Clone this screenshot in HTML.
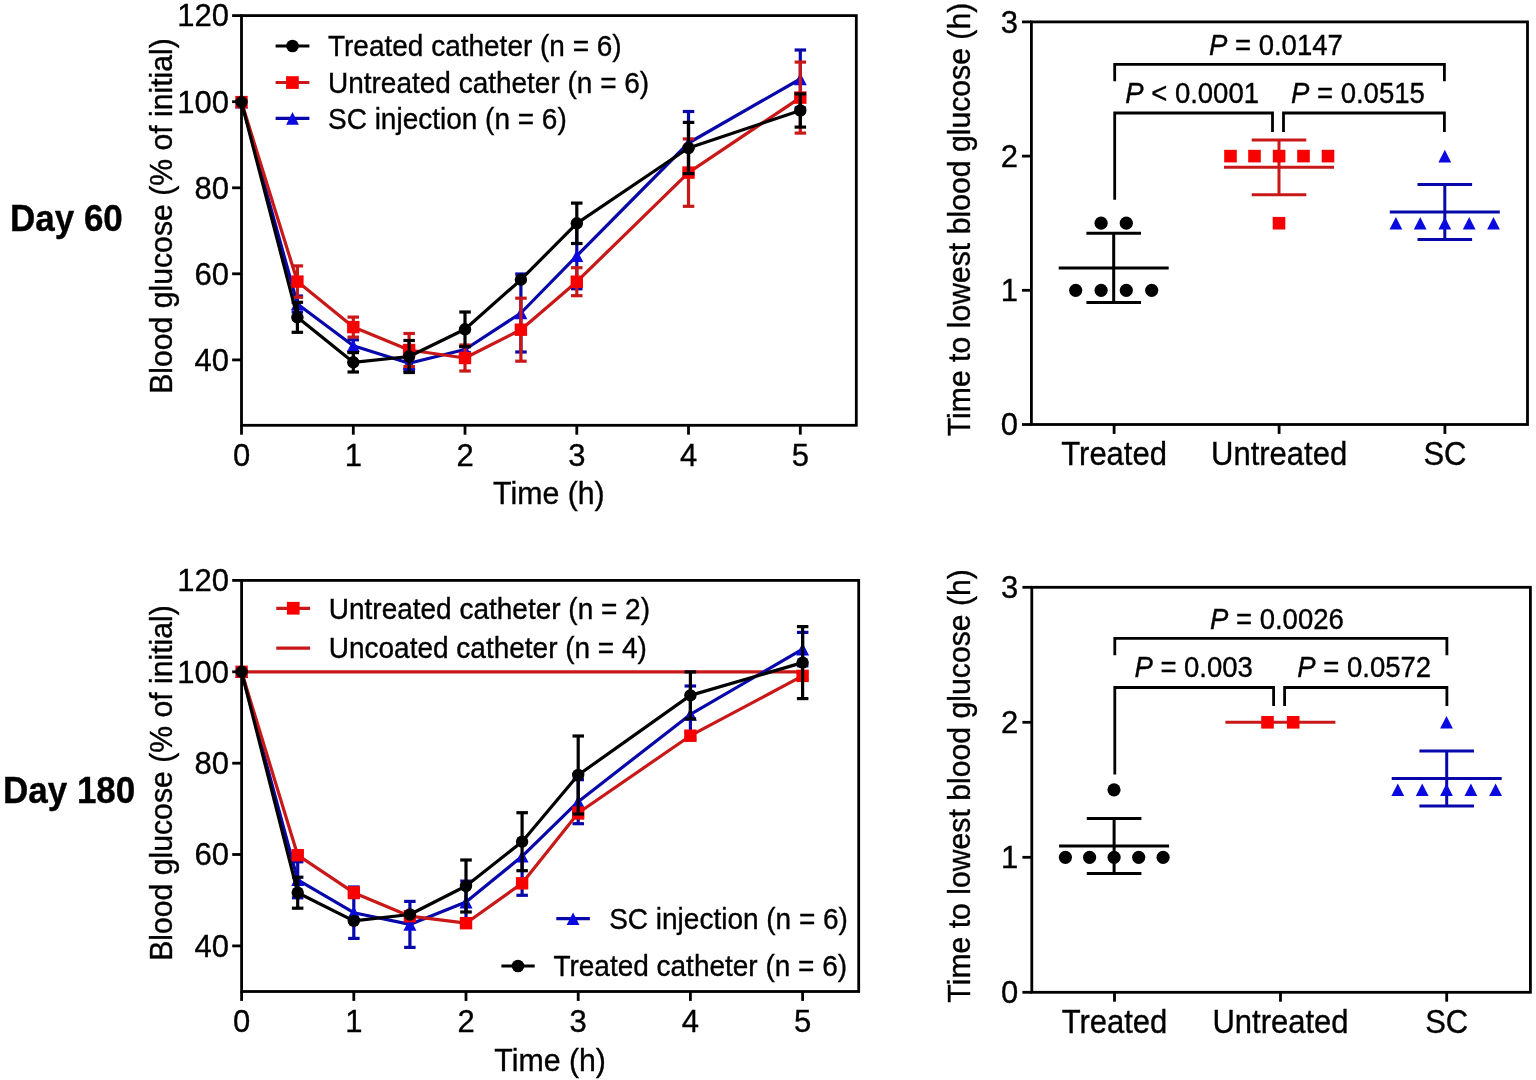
<!DOCTYPE html>
<html><head><meta charset="utf-8"><title>Blood glucose figure</title>
<style>
html,body{margin:0;padding:0;background:#fff;}
body{width:1536px;height:1080px;overflow:hidden;}
svg{display:block;filter:blur(0.3px);}
text{font-family:"Liberation Sans", Arial, Helvetica, sans-serif;fill:#000;stroke:#000;stroke-width:0.35px;}
</style></head>
<body>
<svg width="1536" height="1080" viewBox="0 0 1536 1080">
<rect width="1536" height="1080" fill="#fff"/>
<polyline points="241.5,102.1 297.4,304.0 353.3,345.8 409.1,363.3 465.0,349.5 520.9,313.0 576.8,255.8 688.5,143.0 800.3,79.0" fill="none" stroke="#0808aa" stroke-width="3.2" stroke-linejoin="round"/>
<line x1="297.4" y1="296.0" x2="297.4" y2="312.0" stroke="#0808aa" stroke-width="3.2" stroke-linecap="butt"/>
<line x1="291.6" y1="296.0" x2="303.1" y2="296.0" stroke="#0808aa" stroke-width="3.2" stroke-linecap="butt"/>
<line x1="291.6" y1="312.0" x2="303.1" y2="312.0" stroke="#0808aa" stroke-width="3.2" stroke-linecap="butt"/>
<line x1="353.3" y1="339.8" x2="353.3" y2="351.8" stroke="#0808aa" stroke-width="3.2" stroke-linecap="butt"/>
<line x1="347.5" y1="339.8" x2="359.0" y2="339.8" stroke="#0808aa" stroke-width="3.2" stroke-linecap="butt"/>
<line x1="347.5" y1="351.8" x2="359.0" y2="351.8" stroke="#0808aa" stroke-width="3.2" stroke-linecap="butt"/>
<line x1="409.1" y1="356.3" x2="409.1" y2="370.3" stroke="#0808aa" stroke-width="3.2" stroke-linecap="butt"/>
<line x1="403.4" y1="356.3" x2="414.9" y2="356.3" stroke="#0808aa" stroke-width="3.2" stroke-linecap="butt"/>
<line x1="403.4" y1="370.3" x2="414.9" y2="370.3" stroke="#0808aa" stroke-width="3.2" stroke-linecap="butt"/>
<line x1="465.0" y1="346.5" x2="465.0" y2="352.5" stroke="#0808aa" stroke-width="3.2" stroke-linecap="butt"/>
<line x1="459.3" y1="346.5" x2="470.8" y2="346.5" stroke="#0808aa" stroke-width="3.2" stroke-linecap="butt"/>
<line x1="459.3" y1="352.5" x2="470.8" y2="352.5" stroke="#0808aa" stroke-width="3.2" stroke-linecap="butt"/>
<line x1="520.9" y1="274.0" x2="520.9" y2="352.0" stroke="#0808aa" stroke-width="3.2" stroke-linecap="butt"/>
<line x1="515.2" y1="274.0" x2="526.7" y2="274.0" stroke="#0808aa" stroke-width="3.2" stroke-linecap="butt"/>
<line x1="515.2" y1="352.0" x2="526.7" y2="352.0" stroke="#0808aa" stroke-width="3.2" stroke-linecap="butt"/>
<line x1="576.8" y1="222.8" x2="576.8" y2="288.8" stroke="#0808aa" stroke-width="3.2" stroke-linecap="butt"/>
<line x1="571.0" y1="222.8" x2="582.5" y2="222.8" stroke="#0808aa" stroke-width="3.2" stroke-linecap="butt"/>
<line x1="571.0" y1="288.8" x2="582.5" y2="288.8" stroke="#0808aa" stroke-width="3.2" stroke-linecap="butt"/>
<line x1="688.5" y1="111.5" x2="688.5" y2="174.5" stroke="#0808aa" stroke-width="3.2" stroke-linecap="butt"/>
<line x1="682.8" y1="111.5" x2="694.3" y2="111.5" stroke="#0808aa" stroke-width="3.2" stroke-linecap="butt"/>
<line x1="682.8" y1="174.5" x2="694.3" y2="174.5" stroke="#0808aa" stroke-width="3.2" stroke-linecap="butt"/>
<line x1="800.3" y1="50.0" x2="800.3" y2="108.0" stroke="#0808aa" stroke-width="3.2" stroke-linecap="butt"/>
<line x1="794.6" y1="50.0" x2="806.1" y2="50.0" stroke="#0808aa" stroke-width="3.2" stroke-linecap="butt"/>
<line x1="794.6" y1="108.0" x2="806.1" y2="108.0" stroke="#0808aa" stroke-width="3.2" stroke-linecap="butt"/>
<polygon points="241.5,95.8 248.0,108.4 235.0,108.4" fill="#0a0ae0"/>
<polygon points="297.4,297.7 303.9,310.3 290.9,310.3" fill="#0a0ae0"/>
<polygon points="353.3,339.5 359.8,352.1 346.8,352.1" fill="#0a0ae0"/>
<polygon points="409.1,357.0 415.6,369.6 402.6,369.6" fill="#0a0ae0"/>
<polygon points="465.0,343.2 471.5,355.8 458.5,355.8" fill="#0a0ae0"/>
<polygon points="520.9,306.7 527.4,319.3 514.4,319.3" fill="#0a0ae0"/>
<polygon points="576.8,249.5 583.3,262.1 570.3,262.1" fill="#0a0ae0"/>
<polygon points="688.5,136.7 695.0,149.3 682.0,149.3" fill="#0a0ae0"/>
<polygon points="800.3,72.7 806.8,85.3 793.8,85.3" fill="#0a0ae0"/>
<polyline points="241.5,102.1 297.4,281.6 353.3,327.1 409.1,350.0 465.0,358.0 520.9,329.7 576.8,281.7 688.5,172.6 800.3,97.6" fill="none" stroke="#c81818" stroke-width="3.2" stroke-linejoin="round"/>
<line x1="297.4" y1="265.9" x2="297.4" y2="297.3" stroke="#c81818" stroke-width="3.2" stroke-linecap="butt"/>
<line x1="291.6" y1="265.9" x2="303.1" y2="265.9" stroke="#c81818" stroke-width="3.2" stroke-linecap="butt"/>
<line x1="291.6" y1="297.3" x2="303.1" y2="297.3" stroke="#c81818" stroke-width="3.2" stroke-linecap="butt"/>
<line x1="353.3" y1="317.1" x2="353.3" y2="337.1" stroke="#c81818" stroke-width="3.2" stroke-linecap="butt"/>
<line x1="347.5" y1="317.1" x2="359.0" y2="317.1" stroke="#c81818" stroke-width="3.2" stroke-linecap="butt"/>
<line x1="347.5" y1="337.1" x2="359.0" y2="337.1" stroke="#c81818" stroke-width="3.2" stroke-linecap="butt"/>
<line x1="409.1" y1="333.5" x2="409.1" y2="366.5" stroke="#c81818" stroke-width="3.2" stroke-linecap="butt"/>
<line x1="403.4" y1="333.5" x2="414.9" y2="333.5" stroke="#c81818" stroke-width="3.2" stroke-linecap="butt"/>
<line x1="403.4" y1="366.5" x2="414.9" y2="366.5" stroke="#c81818" stroke-width="3.2" stroke-linecap="butt"/>
<line x1="465.0" y1="345.0" x2="465.0" y2="371.0" stroke="#c81818" stroke-width="3.2" stroke-linecap="butt"/>
<line x1="459.3" y1="345.0" x2="470.8" y2="345.0" stroke="#c81818" stroke-width="3.2" stroke-linecap="butt"/>
<line x1="459.3" y1="371.0" x2="470.8" y2="371.0" stroke="#c81818" stroke-width="3.2" stroke-linecap="butt"/>
<line x1="520.9" y1="298.2" x2="520.9" y2="361.2" stroke="#c81818" stroke-width="3.2" stroke-linecap="butt"/>
<line x1="515.2" y1="298.2" x2="526.7" y2="298.2" stroke="#c81818" stroke-width="3.2" stroke-linecap="butt"/>
<line x1="515.2" y1="361.2" x2="526.7" y2="361.2" stroke="#c81818" stroke-width="3.2" stroke-linecap="butt"/>
<line x1="576.8" y1="267.7" x2="576.8" y2="295.7" stroke="#c81818" stroke-width="3.2" stroke-linecap="butt"/>
<line x1="571.0" y1="267.7" x2="582.5" y2="267.7" stroke="#c81818" stroke-width="3.2" stroke-linecap="butt"/>
<line x1="571.0" y1="295.7" x2="582.5" y2="295.7" stroke="#c81818" stroke-width="3.2" stroke-linecap="butt"/>
<line x1="688.5" y1="138.9" x2="688.5" y2="206.3" stroke="#c81818" stroke-width="3.2" stroke-linecap="butt"/>
<line x1="682.8" y1="138.9" x2="694.3" y2="138.9" stroke="#c81818" stroke-width="3.2" stroke-linecap="butt"/>
<line x1="682.8" y1="206.3" x2="694.3" y2="206.3" stroke="#c81818" stroke-width="3.2" stroke-linecap="butt"/>
<line x1="800.3" y1="62.1" x2="800.3" y2="133.1" stroke="#c81818" stroke-width="3.2" stroke-linecap="butt"/>
<line x1="794.6" y1="62.1" x2="806.1" y2="62.1" stroke="#c81818" stroke-width="3.2" stroke-linecap="butt"/>
<line x1="794.6" y1="133.1" x2="806.1" y2="133.1" stroke="#c81818" stroke-width="3.2" stroke-linecap="butt"/>
<rect x="235.3" y="95.9" width="12.4" height="12.4" fill="#f80000"/>
<rect x="291.2" y="275.4" width="12.4" height="12.4" fill="#f80000"/>
<rect x="347.1" y="320.9" width="12.4" height="12.4" fill="#f80000"/>
<rect x="402.9" y="343.8" width="12.4" height="12.4" fill="#f80000"/>
<rect x="458.8" y="351.8" width="12.4" height="12.4" fill="#f80000"/>
<rect x="514.7" y="323.5" width="12.4" height="12.4" fill="#f80000"/>
<rect x="570.6" y="275.5" width="12.4" height="12.4" fill="#f80000"/>
<rect x="682.3" y="166.4" width="12.4" height="12.4" fill="#f80000"/>
<rect x="794.1" y="91.4" width="12.4" height="12.4" fill="#f80000"/>
<polyline points="241.5,102.1 297.4,317.3 353.3,362.3 409.1,356.5 465.0,329.3 520.9,279.7 576.8,223.3 688.5,148.0 800.3,110.5" fill="none" stroke="#000000" stroke-width="3.2" stroke-linejoin="round"/>
<line x1="297.4" y1="302.3" x2="297.4" y2="332.3" stroke="#000000" stroke-width="3.2" stroke-linecap="butt"/>
<line x1="291.6" y1="302.3" x2="303.1" y2="302.3" stroke="#000000" stroke-width="3.2" stroke-linecap="butt"/>
<line x1="291.6" y1="332.3" x2="303.1" y2="332.3" stroke="#000000" stroke-width="3.2" stroke-linecap="butt"/>
<line x1="353.3" y1="352.6" x2="353.3" y2="372.0" stroke="#000000" stroke-width="3.2" stroke-linecap="butt"/>
<line x1="347.5" y1="352.6" x2="359.0" y2="352.6" stroke="#000000" stroke-width="3.2" stroke-linecap="butt"/>
<line x1="347.5" y1="372.0" x2="359.0" y2="372.0" stroke="#000000" stroke-width="3.2" stroke-linecap="butt"/>
<line x1="409.1" y1="340.5" x2="409.1" y2="372.5" stroke="#000000" stroke-width="3.2" stroke-linecap="butt"/>
<line x1="403.4" y1="340.5" x2="414.9" y2="340.5" stroke="#000000" stroke-width="3.2" stroke-linecap="butt"/>
<line x1="403.4" y1="372.5" x2="414.9" y2="372.5" stroke="#000000" stroke-width="3.2" stroke-linecap="butt"/>
<line x1="465.0" y1="312.0" x2="465.0" y2="346.6" stroke="#000000" stroke-width="3.2" stroke-linecap="butt"/>
<line x1="459.3" y1="312.0" x2="470.8" y2="312.0" stroke="#000000" stroke-width="3.2" stroke-linecap="butt"/>
<line x1="459.3" y1="346.6" x2="470.8" y2="346.6" stroke="#000000" stroke-width="3.2" stroke-linecap="butt"/>
<line x1="576.8" y1="203.1" x2="576.8" y2="243.5" stroke="#000000" stroke-width="3.2" stroke-linecap="butt"/>
<line x1="571.0" y1="203.1" x2="582.5" y2="203.1" stroke="#000000" stroke-width="3.2" stroke-linecap="butt"/>
<line x1="571.0" y1="243.5" x2="582.5" y2="243.5" stroke="#000000" stroke-width="3.2" stroke-linecap="butt"/>
<line x1="688.5" y1="122.4" x2="688.5" y2="173.6" stroke="#000000" stroke-width="3.2" stroke-linecap="butt"/>
<line x1="682.8" y1="122.4" x2="694.3" y2="122.4" stroke="#000000" stroke-width="3.2" stroke-linecap="butt"/>
<line x1="682.8" y1="173.6" x2="694.3" y2="173.6" stroke="#000000" stroke-width="3.2" stroke-linecap="butt"/>
<line x1="800.3" y1="93.9" x2="800.3" y2="127.1" stroke="#000000" stroke-width="3.2" stroke-linecap="butt"/>
<line x1="794.6" y1="93.9" x2="806.1" y2="93.9" stroke="#000000" stroke-width="3.2" stroke-linecap="butt"/>
<line x1="794.6" y1="127.1" x2="806.1" y2="127.1" stroke="#000000" stroke-width="3.2" stroke-linecap="butt"/>
<circle cx="241.5" cy="102.1" r="6.2" fill="#000000"/>
<circle cx="297.4" cy="317.3" r="6.2" fill="#000000"/>
<circle cx="353.3" cy="362.3" r="6.2" fill="#000000"/>
<circle cx="409.1" cy="356.5" r="6.2" fill="#000000"/>
<circle cx="465.0" cy="329.3" r="6.2" fill="#000000"/>
<circle cx="520.9" cy="279.7" r="6.2" fill="#000000"/>
<circle cx="576.8" cy="223.3" r="6.2" fill="#000000"/>
<circle cx="688.5" cy="148.0" r="6.2" fill="#000000"/>
<circle cx="800.3" cy="110.5" r="6.2" fill="#000000"/>
<rect x="241.5" y="15.6" width="614.8" height="409.7" fill="none" stroke="#000" stroke-width="2.8"/>
<line x1="232.1" y1="359.9" x2="241.5" y2="359.9" stroke="#000000" stroke-width="2.8" stroke-linecap="butt"/>
<text x="0" y="0" font-size="31" text-anchor="end" font-weight="normal" font-style="normal" transform="translate(229.0,370.7) scale(1,1.0)" >40</text>
<line x1="232.1" y1="273.8" x2="241.5" y2="273.8" stroke="#000000" stroke-width="2.8" stroke-linecap="butt"/>
<text x="0" y="0" font-size="31" text-anchor="end" font-weight="normal" font-style="normal" transform="translate(229.0,284.6) scale(1,1.0)" >60</text>
<line x1="232.1" y1="187.8" x2="241.5" y2="187.8" stroke="#000000" stroke-width="2.8" stroke-linecap="butt"/>
<text x="0" y="0" font-size="31" text-anchor="end" font-weight="normal" font-style="normal" transform="translate(229.0,198.6) scale(1,1.0)" >80</text>
<line x1="232.1" y1="101.7" x2="241.5" y2="101.7" stroke="#000000" stroke-width="2.8" stroke-linecap="butt"/>
<text x="0" y="0" font-size="31" text-anchor="end" font-weight="normal" font-style="normal" transform="translate(229.0,112.5) scale(1,1.0)" >100</text>
<line x1="232.1" y1="15.6" x2="241.5" y2="15.6" stroke="#000000" stroke-width="2.8" stroke-linecap="butt"/>
<text x="0" y="0" font-size="31" text-anchor="end" font-weight="normal" font-style="normal" transform="translate(229.0,26.4) scale(1,1.0)" >120</text>
<line x1="241.5" y1="425.3" x2="241.5" y2="434.7" stroke="#000000" stroke-width="2.8" stroke-linecap="butt"/>
<text x="0" y="0" font-size="31" text-anchor="middle" font-weight="normal" font-style="normal" transform="translate(241.5,465.9) scale(1,1.0)" >0</text>
<line x1="353.3" y1="425.3" x2="353.3" y2="434.7" stroke="#000000" stroke-width="2.8" stroke-linecap="butt"/>
<text x="0" y="0" font-size="31" text-anchor="middle" font-weight="normal" font-style="normal" transform="translate(353.3,465.9) scale(1,1.0)" >1</text>
<line x1="465.0" y1="425.3" x2="465.0" y2="434.7" stroke="#000000" stroke-width="2.8" stroke-linecap="butt"/>
<text x="0" y="0" font-size="31" text-anchor="middle" font-weight="normal" font-style="normal" transform="translate(465.0,465.9) scale(1,1.0)" >2</text>
<line x1="576.8" y1="425.3" x2="576.8" y2="434.7" stroke="#000000" stroke-width="2.8" stroke-linecap="butt"/>
<text x="0" y="0" font-size="31" text-anchor="middle" font-weight="normal" font-style="normal" transform="translate(576.8,465.9) scale(1,1.0)" >3</text>
<line x1="688.5" y1="425.3" x2="688.5" y2="434.7" stroke="#000000" stroke-width="2.8" stroke-linecap="butt"/>
<text x="0" y="0" font-size="31" text-anchor="middle" font-weight="normal" font-style="normal" transform="translate(688.5,465.9) scale(1,1.0)" >4</text>
<line x1="800.3" y1="425.3" x2="800.3" y2="434.7" stroke="#000000" stroke-width="2.8" stroke-linecap="butt"/>
<text x="0" y="0" font-size="31" text-anchor="middle" font-weight="normal" font-style="normal" transform="translate(800.3,465.9) scale(1,1.0)" >5</text>
<text x="0" y="0" font-size="30.3" text-anchor="middle" font-weight="normal" font-style="normal" transform="translate(548.9,504.3) scale(1,1.05)" >Time (h)</text>
<text x="0" y="0" font-size="30.2" text-anchor="middle" transform="translate(171.5,216.0) rotate(-90) scale(1,1.05)">Blood glucose (% of initial)</text>
<line x1="275.6" y1="46.0" x2="309.4" y2="46.0" stroke="#000000" stroke-width="3.2" stroke-linecap="butt"/>
<circle cx="292.5" cy="46.0" r="6.3" fill="#000000"/>
<text x="0" y="0" font-size="28" text-anchor="start" font-weight="normal" font-style="normal" transform="translate(328.0,56.3) scale(1,1.05)" >Treated catheter (n = 6)</text>
<line x1="275.6" y1="82.5" x2="309.4" y2="82.5" stroke="#c81818" stroke-width="3.2" stroke-linecap="butt"/>
<rect x="286.1" y="76.2" width="12.7" height="12.7" fill="#f80000"/>
<text x="0" y="0" font-size="28" text-anchor="start" font-weight="normal" font-style="normal" transform="translate(328.0,92.8) scale(1,1.05)" >Untreated catheter (n = 6)</text>
<line x1="275.6" y1="118.4" x2="309.4" y2="118.4" stroke="#0808aa" stroke-width="3.2" stroke-linecap="butt"/>
<polygon points="292.5,112.1 298.9,124.8 286.1,124.8" fill="#0a0ae0"/>
<text x="0" y="0" font-size="28" text-anchor="start" font-weight="normal" font-style="normal" transform="translate(328.0,128.7) scale(1,1.05)" >SC injection (n = 6)</text>
<line x1="241.5" y1="671.8" x2="802.9" y2="671.8" stroke="#c81818" stroke-width="3.2" stroke-linecap="butt"/>
<polyline points="241.6,671.8 297.7,879.8 353.8,912.7 409.9,924.4 466.0,902.1 522.1,856.3 578.2,801.7 690.4,714.4 802.6,649.1" fill="none" stroke="#0808aa" stroke-width="3.2" stroke-linejoin="round"/>
<line x1="297.7" y1="861.8" x2="297.7" y2="897.8" stroke="#0808aa" stroke-width="3.2" stroke-linecap="butt"/>
<line x1="291.9" y1="861.8" x2="303.4" y2="861.8" stroke="#0808aa" stroke-width="3.2" stroke-linecap="butt"/>
<line x1="291.9" y1="897.8" x2="303.4" y2="897.8" stroke="#0808aa" stroke-width="3.2" stroke-linecap="butt"/>
<line x1="353.8" y1="887.0" x2="353.8" y2="938.4" stroke="#0808aa" stroke-width="3.2" stroke-linecap="butt"/>
<line x1="348.1" y1="887.0" x2="359.6" y2="887.0" stroke="#0808aa" stroke-width="3.2" stroke-linecap="butt"/>
<line x1="348.1" y1="938.4" x2="359.6" y2="938.4" stroke="#0808aa" stroke-width="3.2" stroke-linecap="butt"/>
<line x1="409.9" y1="901.4" x2="409.9" y2="947.4" stroke="#0808aa" stroke-width="3.2" stroke-linecap="butt"/>
<line x1="404.1" y1="901.4" x2="415.6" y2="901.4" stroke="#0808aa" stroke-width="3.2" stroke-linecap="butt"/>
<line x1="404.1" y1="947.4" x2="415.6" y2="947.4" stroke="#0808aa" stroke-width="3.2" stroke-linecap="butt"/>
<line x1="466.0" y1="881.1" x2="466.0" y2="923.1" stroke="#0808aa" stroke-width="3.2" stroke-linecap="butt"/>
<line x1="460.2" y1="881.1" x2="471.8" y2="881.1" stroke="#0808aa" stroke-width="3.2" stroke-linecap="butt"/>
<line x1="460.2" y1="923.1" x2="471.8" y2="923.1" stroke="#0808aa" stroke-width="3.2" stroke-linecap="butt"/>
<line x1="522.1" y1="856.3" x2="522.1" y2="895.3" stroke="#0808aa" stroke-width="3.2" stroke-linecap="butt"/>
<line x1="516.4" y1="895.3" x2="527.9" y2="895.3" stroke="#0808aa" stroke-width="3.2" stroke-linecap="butt"/>
<line x1="578.2" y1="779.7" x2="578.2" y2="823.7" stroke="#0808aa" stroke-width="3.2" stroke-linecap="butt"/>
<line x1="572.5" y1="779.7" x2="584.0" y2="779.7" stroke="#0808aa" stroke-width="3.2" stroke-linecap="butt"/>
<line x1="572.5" y1="823.7" x2="584.0" y2="823.7" stroke="#0808aa" stroke-width="3.2" stroke-linecap="butt"/>
<line x1="690.4" y1="686.0" x2="690.4" y2="739.9" stroke="#0808aa" stroke-width="3.2" stroke-linecap="butt"/>
<line x1="684.6" y1="686.0" x2="696.1" y2="686.0" stroke="#0808aa" stroke-width="3.2" stroke-linecap="butt"/>
<line x1="684.6" y1="739.9" x2="696.1" y2="739.9" stroke="#0808aa" stroke-width="3.2" stroke-linecap="butt"/>
<line x1="802.6" y1="632.4" x2="802.6" y2="665.8" stroke="#0808aa" stroke-width="3.2" stroke-linecap="butt"/>
<line x1="796.9" y1="632.4" x2="808.4" y2="632.4" stroke="#0808aa" stroke-width="3.2" stroke-linecap="butt"/>
<line x1="796.9" y1="665.8" x2="808.4" y2="665.8" stroke="#0808aa" stroke-width="3.2" stroke-linecap="butt"/>
<polygon points="241.6,665.5 248.1,678.1 235.1,678.1" fill="#0a0ae0"/>
<polygon points="297.7,873.5 304.2,886.1 291.2,886.1" fill="#0a0ae0"/>
<polygon points="353.8,906.4 360.3,919.0 347.3,919.0" fill="#0a0ae0"/>
<polygon points="409.9,918.1 416.4,930.7 403.4,930.7" fill="#0a0ae0"/>
<polygon points="466.0,895.8 472.5,908.4 459.5,908.4" fill="#0a0ae0"/>
<polygon points="522.1,850.0 528.6,862.6 515.6,862.6" fill="#0a0ae0"/>
<polygon points="578.2,795.4 584.7,808.0 571.7,808.0" fill="#0a0ae0"/>
<polygon points="690.4,708.1 696.9,720.7 683.9,720.7" fill="#0a0ae0"/>
<polygon points="802.6,642.8 809.1,655.4 796.1,655.4" fill="#0a0ae0"/>
<polyline points="241.6,671.8 297.7,855.2 353.8,892.7 409.9,916.2 466.0,923.2 522.1,883.3 578.2,813.0 690.4,735.7 802.6,675.9" fill="none" stroke="#c81818" stroke-width="3.2" stroke-linejoin="round"/>
<line x1="297.7" y1="852.2" x2="297.7" y2="858.2" stroke="#c81818" stroke-width="3.2" stroke-linecap="butt"/>
<line x1="291.9" y1="852.2" x2="303.4" y2="852.2" stroke="#c81818" stroke-width="3.2" stroke-linecap="butt"/>
<line x1="291.9" y1="858.2" x2="303.4" y2="858.2" stroke="#c81818" stroke-width="3.2" stroke-linecap="butt"/>
<line x1="353.8" y1="887.7" x2="353.8" y2="897.7" stroke="#c81818" stroke-width="3.2" stroke-linecap="butt"/>
<line x1="348.1" y1="887.7" x2="359.6" y2="887.7" stroke="#c81818" stroke-width="3.2" stroke-linecap="butt"/>
<line x1="348.1" y1="897.7" x2="359.6" y2="897.7" stroke="#c81818" stroke-width="3.2" stroke-linecap="butt"/>
<line x1="409.9" y1="913.2" x2="409.9" y2="919.2" stroke="#c81818" stroke-width="3.2" stroke-linecap="butt"/>
<line x1="404.1" y1="913.2" x2="415.6" y2="913.2" stroke="#c81818" stroke-width="3.2" stroke-linecap="butt"/>
<line x1="404.1" y1="919.2" x2="415.6" y2="919.2" stroke="#c81818" stroke-width="3.2" stroke-linecap="butt"/>
<line x1="466.0" y1="920.2" x2="466.0" y2="926.2" stroke="#c81818" stroke-width="3.2" stroke-linecap="butt"/>
<line x1="460.2" y1="920.2" x2="471.8" y2="920.2" stroke="#c81818" stroke-width="3.2" stroke-linecap="butt"/>
<line x1="460.2" y1="926.2" x2="471.8" y2="926.2" stroke="#c81818" stroke-width="3.2" stroke-linecap="butt"/>
<line x1="522.1" y1="880.3" x2="522.1" y2="886.3" stroke="#c81818" stroke-width="3.2" stroke-linecap="butt"/>
<line x1="516.4" y1="880.3" x2="527.9" y2="880.3" stroke="#c81818" stroke-width="3.2" stroke-linecap="butt"/>
<line x1="516.4" y1="886.3" x2="527.9" y2="886.3" stroke="#c81818" stroke-width="3.2" stroke-linecap="butt"/>
<line x1="578.2" y1="808.0" x2="578.2" y2="818.0" stroke="#c81818" stroke-width="3.2" stroke-linecap="butt"/>
<line x1="572.5" y1="808.0" x2="584.0" y2="808.0" stroke="#c81818" stroke-width="3.2" stroke-linecap="butt"/>
<line x1="572.5" y1="818.0" x2="584.0" y2="818.0" stroke="#c81818" stroke-width="3.2" stroke-linecap="butt"/>
<line x1="690.4" y1="732.7" x2="690.4" y2="738.7" stroke="#c81818" stroke-width="3.2" stroke-linecap="butt"/>
<line x1="684.6" y1="732.7" x2="696.1" y2="732.7" stroke="#c81818" stroke-width="3.2" stroke-linecap="butt"/>
<line x1="684.6" y1="738.7" x2="696.1" y2="738.7" stroke="#c81818" stroke-width="3.2" stroke-linecap="butt"/>
<line x1="802.6" y1="672.9" x2="802.6" y2="678.9" stroke="#c81818" stroke-width="3.2" stroke-linecap="butt"/>
<line x1="796.9" y1="672.9" x2="808.4" y2="672.9" stroke="#c81818" stroke-width="3.2" stroke-linecap="butt"/>
<line x1="796.9" y1="678.9" x2="808.4" y2="678.9" stroke="#c81818" stroke-width="3.2" stroke-linecap="butt"/>
<rect x="235.4" y="665.6" width="12.4" height="12.4" fill="#f80000"/>
<rect x="291.5" y="849.0" width="12.4" height="12.4" fill="#f80000"/>
<rect x="347.6" y="886.5" width="12.4" height="12.4" fill="#f80000"/>
<rect x="403.7" y="910.0" width="12.4" height="12.4" fill="#f80000"/>
<rect x="459.8" y="917.0" width="12.4" height="12.4" fill="#f80000"/>
<rect x="515.9" y="877.1" width="12.4" height="12.4" fill="#f80000"/>
<rect x="572.0" y="806.8" width="12.4" height="12.4" fill="#f80000"/>
<rect x="684.2" y="729.5" width="12.4" height="12.4" fill="#f80000"/>
<rect x="796.4" y="669.7" width="12.4" height="12.4" fill="#f80000"/>
<polyline points="241.6,671.8 297.7,892.7 353.8,920.9 409.9,914.5 466.0,886.0 522.1,841.7 578.2,775.0 690.4,695.4 802.6,662.6" fill="none" stroke="#000000" stroke-width="3.2" stroke-linejoin="round"/>
<line x1="297.7" y1="877.2" x2="297.7" y2="908.2" stroke="#000000" stroke-width="3.2" stroke-linecap="butt"/>
<line x1="291.9" y1="877.2" x2="303.4" y2="877.2" stroke="#000000" stroke-width="3.2" stroke-linecap="butt"/>
<line x1="291.9" y1="908.2" x2="303.4" y2="908.2" stroke="#000000" stroke-width="3.2" stroke-linecap="butt"/>
<line x1="466.0" y1="860.0" x2="466.0" y2="912.0" stroke="#000000" stroke-width="3.2" stroke-linecap="butt"/>
<line x1="460.2" y1="860.0" x2="471.8" y2="860.0" stroke="#000000" stroke-width="3.2" stroke-linecap="butt"/>
<line x1="460.2" y1="912.0" x2="471.8" y2="912.0" stroke="#000000" stroke-width="3.2" stroke-linecap="butt"/>
<line x1="522.1" y1="812.7" x2="522.1" y2="870.7" stroke="#000000" stroke-width="3.2" stroke-linecap="butt"/>
<line x1="516.4" y1="812.7" x2="527.9" y2="812.7" stroke="#000000" stroke-width="3.2" stroke-linecap="butt"/>
<line x1="516.4" y1="870.7" x2="527.9" y2="870.7" stroke="#000000" stroke-width="3.2" stroke-linecap="butt"/>
<line x1="578.2" y1="736.0" x2="578.2" y2="814.0" stroke="#000000" stroke-width="3.2" stroke-linecap="butt"/>
<line x1="572.5" y1="736.0" x2="584.0" y2="736.0" stroke="#000000" stroke-width="3.2" stroke-linecap="butt"/>
<line x1="572.5" y1="814.0" x2="584.0" y2="814.0" stroke="#000000" stroke-width="3.2" stroke-linecap="butt"/>
<line x1="690.4" y1="671.9" x2="690.4" y2="718.9" stroke="#000000" stroke-width="3.2" stroke-linecap="butt"/>
<line x1="684.6" y1="671.9" x2="696.1" y2="671.9" stroke="#000000" stroke-width="3.2" stroke-linecap="butt"/>
<line x1="684.6" y1="718.9" x2="696.1" y2="718.9" stroke="#000000" stroke-width="3.2" stroke-linecap="butt"/>
<line x1="802.6" y1="626.6" x2="802.6" y2="698.6" stroke="#000000" stroke-width="3.2" stroke-linecap="butt"/>
<line x1="796.9" y1="626.6" x2="808.4" y2="626.6" stroke="#000000" stroke-width="3.2" stroke-linecap="butt"/>
<line x1="796.9" y1="698.6" x2="808.4" y2="698.6" stroke="#000000" stroke-width="3.2" stroke-linecap="butt"/>
<circle cx="241.6" cy="671.8" r="6.2" fill="#000000"/>
<circle cx="297.7" cy="892.7" r="6.2" fill="#000000"/>
<circle cx="353.8" cy="920.9" r="6.2" fill="#000000"/>
<circle cx="409.9" cy="914.5" r="6.2" fill="#000000"/>
<circle cx="466.0" cy="886.0" r="6.2" fill="#000000"/>
<circle cx="522.1" cy="841.7" r="6.2" fill="#000000"/>
<circle cx="578.2" cy="775.0" r="6.2" fill="#000000"/>
<circle cx="690.4" cy="695.4" r="6.2" fill="#000000"/>
<circle cx="802.6" cy="662.6" r="6.2" fill="#000000"/>
<rect x="241.6" y="580.4" width="617.1" height="411.1" fill="none" stroke="#000" stroke-width="2.8"/>
<line x1="232.2" y1="945.9" x2="241.6" y2="945.9" stroke="#000000" stroke-width="2.8" stroke-linecap="butt"/>
<text x="0" y="0" font-size="31" text-anchor="end" font-weight="normal" font-style="normal" transform="translate(229.1,956.7) scale(1,1.0)" >40</text>
<line x1="232.2" y1="854.5" x2="241.6" y2="854.5" stroke="#000000" stroke-width="2.8" stroke-linecap="butt"/>
<text x="0" y="0" font-size="31" text-anchor="end" font-weight="normal" font-style="normal" transform="translate(229.1,865.3) scale(1,1.0)" >60</text>
<line x1="232.2" y1="763.2" x2="241.6" y2="763.2" stroke="#000000" stroke-width="2.8" stroke-linecap="butt"/>
<text x="0" y="0" font-size="31" text-anchor="end" font-weight="normal" font-style="normal" transform="translate(229.1,774.0) scale(1,1.0)" >80</text>
<line x1="232.2" y1="671.8" x2="241.6" y2="671.8" stroke="#000000" stroke-width="2.8" stroke-linecap="butt"/>
<text x="0" y="0" font-size="31" text-anchor="end" font-weight="normal" font-style="normal" transform="translate(229.1,682.6) scale(1,1.0)" >100</text>
<line x1="232.2" y1="580.4" x2="241.6" y2="580.4" stroke="#000000" stroke-width="2.8" stroke-linecap="butt"/>
<text x="0" y="0" font-size="31" text-anchor="end" font-weight="normal" font-style="normal" transform="translate(229.1,591.2) scale(1,1.0)" >120</text>
<line x1="241.6" y1="991.5" x2="241.6" y2="1000.9" stroke="#000000" stroke-width="2.8" stroke-linecap="butt"/>
<text x="0" y="0" font-size="31" text-anchor="middle" font-weight="normal" font-style="normal" transform="translate(241.6,1032.1) scale(1,1.0)" >0</text>
<line x1="353.8" y1="991.5" x2="353.8" y2="1000.9" stroke="#000000" stroke-width="2.8" stroke-linecap="butt"/>
<text x="0" y="0" font-size="31" text-anchor="middle" font-weight="normal" font-style="normal" transform="translate(353.8,1032.1) scale(1,1.0)" >1</text>
<line x1="466.0" y1="991.5" x2="466.0" y2="1000.9" stroke="#000000" stroke-width="2.8" stroke-linecap="butt"/>
<text x="0" y="0" font-size="31" text-anchor="middle" font-weight="normal" font-style="normal" transform="translate(466.0,1032.1) scale(1,1.0)" >2</text>
<line x1="578.2" y1="991.5" x2="578.2" y2="1000.9" stroke="#000000" stroke-width="2.8" stroke-linecap="butt"/>
<text x="0" y="0" font-size="31" text-anchor="middle" font-weight="normal" font-style="normal" transform="translate(578.2,1032.1) scale(1,1.0)" >3</text>
<line x1="690.4" y1="991.5" x2="690.4" y2="1000.9" stroke="#000000" stroke-width="2.8" stroke-linecap="butt"/>
<text x="0" y="0" font-size="31" text-anchor="middle" font-weight="normal" font-style="normal" transform="translate(690.4,1032.1) scale(1,1.0)" >4</text>
<line x1="802.6" y1="991.5" x2="802.6" y2="1000.9" stroke="#000000" stroke-width="2.8" stroke-linecap="butt"/>
<text x="0" y="0" font-size="31" text-anchor="middle" font-weight="normal" font-style="normal" transform="translate(802.6,1032.1) scale(1,1.0)" >5</text>
<text x="0" y="0" font-size="30.3" text-anchor="middle" font-weight="normal" font-style="normal" transform="translate(550.1,1071.3) scale(1,1.05)" >Time (h)</text>
<text x="0" y="0" font-size="30.2" text-anchor="middle" transform="translate(171.5,783.0) rotate(-90) scale(1,1.05)">Blood glucose (% of initial)</text>
<line x1="276.3" y1="608.3" x2="310.1" y2="608.3" stroke="#c81818" stroke-width="3.2" stroke-linecap="butt"/>
<rect x="286.9" y="601.9" width="12.7" height="12.7" fill="#f80000"/>
<text x="0" y="0" font-size="28" text-anchor="start" font-weight="normal" font-style="normal" transform="translate(328.8,618.6) scale(1,1.05)" >Untreated catheter (n = 2)</text>
<line x1="276.3" y1="648.1" x2="310.1" y2="648.1" stroke="#c81818" stroke-width="3.2" stroke-linecap="butt"/>
<text x="0" y="0" font-size="28" text-anchor="start" font-weight="normal" font-style="normal" transform="translate(328.8,658.4) scale(1,1.05)" >Uncoated catheter (n = 4)</text>
<line x1="556.3" y1="918.7" x2="589.9" y2="918.7" stroke="#0808aa" stroke-width="3.2" stroke-linecap="butt"/>
<polygon points="573.1,912.4 579.5,925.1 566.6,925.1" fill="#0a0ae0"/>
<text x="0" y="0" font-size="28" text-anchor="start" font-weight="normal" font-style="normal" transform="translate(609.2,929.0) scale(1,1.05)" >SC injection (n = 6)</text>
<line x1="501.4" y1="966.0" x2="534.7" y2="966.0" stroke="#000000" stroke-width="3.2" stroke-linecap="butt"/>
<circle cx="518.0" cy="966.0" r="6.3" fill="#000000"/>
<text x="0" y="0" font-size="28" text-anchor="start" font-weight="normal" font-style="normal" transform="translate(553.4,976.3) scale(1,1.05)" >Treated catheter (n = 6)</text>
<polyline points="1114.7,81.2 1114.7,64.4 1444.4,64.4 1444.4,81.2" fill="none" stroke="#000" stroke-width="2.8"/>
<polyline points="1114.7,199.8 1114.7,113.0 1272.5,113.0 1272.5,132.0" fill="none" stroke="#000" stroke-width="2.8"/>
<polyline points="1283.5,132.0 1283.5,113.0 1444.4,113.0 1444.4,132.0" fill="none" stroke="#000" stroke-width="2.8"/>
<text x="0" y="0" font-size="27.5" transform="translate(1209.0,55.2) scale(1,1.05)"><tspan font-style="italic">P</tspan> = 0.0147</text>
<text x="0" y="0" font-size="27.5" transform="translate(1125.2,102.5) scale(1,1.05)"><tspan font-style="italic">P</tspan> &lt; 0.0001</text>
<text x="0" y="0" font-size="27.5" transform="translate(1291.0,102.5) scale(1,1.05)"><tspan font-style="italic">P</tspan> = 0.0515</text>
<line x1="1058.7" y1="267.9" x2="1168.7" y2="267.9" stroke="#000000" stroke-width="3.0" stroke-linecap="butt"/>
<line x1="1113.7" y1="233.3" x2="1113.7" y2="302.6" stroke="#000000" stroke-width="3.0" stroke-linecap="butt"/>
<line x1="1086.4" y1="233.3" x2="1141.0" y2="233.3" stroke="#000000" stroke-width="3.0" stroke-linecap="butt"/>
<line x1="1086.4" y1="302.6" x2="1141.0" y2="302.6" stroke="#000000" stroke-width="3.0" stroke-linecap="butt"/>
<circle cx="1101.1" cy="223.2" r="6.6" fill="#000000"/>
<circle cx="1126.3" cy="223.2" r="6.6" fill="#000000"/>
<circle cx="1075.7" cy="290.3" r="6.6" fill="#000000"/>
<circle cx="1101.1" cy="290.3" r="6.6" fill="#000000"/>
<circle cx="1126.3" cy="290.3" r="6.6" fill="#000000"/>
<circle cx="1151.7" cy="290.3" r="6.6" fill="#000000"/>
<line x1="1224.0" y1="167.3" x2="1334.0" y2="167.3" stroke="#c81818" stroke-width="3.0" stroke-linecap="butt"/>
<line x1="1279.0" y1="139.9" x2="1279.0" y2="194.7" stroke="#c81818" stroke-width="3.0" stroke-linecap="butt"/>
<line x1="1251.7" y1="139.9" x2="1306.3" y2="139.9" stroke="#c81818" stroke-width="3.0" stroke-linecap="butt"/>
<line x1="1251.7" y1="194.7" x2="1306.3" y2="194.7" stroke="#c81818" stroke-width="3.0" stroke-linecap="butt"/>
<rect x="1224.2" y="149.8" width="12.6" height="12.6" fill="#f80000"/>
<rect x="1248.2" y="149.8" width="12.6" height="12.6" fill="#f80000"/>
<rect x="1272.8" y="149.8" width="12.6" height="12.6" fill="#f80000"/>
<rect x="1297.2" y="149.8" width="12.6" height="12.6" fill="#f80000"/>
<rect x="1321.7" y="149.8" width="12.6" height="12.6" fill="#f80000"/>
<rect x="1272.7" y="216.9" width="12.6" height="12.6" fill="#f80000"/>
<line x1="1389.8" y1="212.0" x2="1499.8" y2="212.0" stroke="#0808aa" stroke-width="3.0" stroke-linecap="butt"/>
<line x1="1444.8" y1="184.6" x2="1444.8" y2="239.4" stroke="#0808aa" stroke-width="3.0" stroke-linecap="butt"/>
<line x1="1417.5" y1="184.6" x2="1472.1" y2="184.6" stroke="#0808aa" stroke-width="3.0" stroke-linecap="butt"/>
<line x1="1417.5" y1="239.4" x2="1472.1" y2="239.4" stroke="#0808aa" stroke-width="3.0" stroke-linecap="butt"/>
<polygon points="1444.8,149.8 1451.2,162.4 1438.4,162.4" fill="#0a0ae0"/>
<polygon points="1395.9,216.9 1402.3,229.5 1389.5,229.5" fill="#0a0ae0"/>
<polygon points="1420.2,216.9 1426.6,229.5 1413.8,229.5" fill="#0a0ae0"/>
<polygon points="1444.8,216.9 1451.2,229.5 1438.4,229.5" fill="#0a0ae0"/>
<polygon points="1469.2,216.9 1475.6,229.5 1462.8,229.5" fill="#0a0ae0"/>
<polygon points="1493.5,216.9 1499.9,229.5 1487.1,229.5" fill="#0a0ae0"/>
<rect x="1031.4" y="21.9" width="496.1" height="402.6" fill="none" stroke="#000" stroke-width="2.8"/>
<line x1="1022.0" y1="424.5" x2="1031.4" y2="424.5" stroke="#000000" stroke-width="2.8" stroke-linecap="butt"/>
<text x="0" y="0" font-size="31" text-anchor="end" font-weight="normal" font-style="normal" transform="translate(1017.9,435.3) scale(1,1.0)" >0</text>
<line x1="1022.0" y1="290.3" x2="1031.4" y2="290.3" stroke="#000000" stroke-width="2.8" stroke-linecap="butt"/>
<text x="0" y="0" font-size="31" text-anchor="end" font-weight="normal" font-style="normal" transform="translate(1017.9,301.1) scale(1,1.0)" >1</text>
<line x1="1022.0" y1="156.1" x2="1031.4" y2="156.1" stroke="#000000" stroke-width="2.8" stroke-linecap="butt"/>
<text x="0" y="0" font-size="31" text-anchor="end" font-weight="normal" font-style="normal" transform="translate(1017.9,166.9) scale(1,1.0)" >2</text>
<line x1="1022.0" y1="21.9" x2="1031.4" y2="21.9" stroke="#000000" stroke-width="2.8" stroke-linecap="butt"/>
<text x="0" y="0" font-size="31" text-anchor="end" font-weight="normal" font-style="normal" transform="translate(1017.9,32.7) scale(1,1.0)" >3</text>
<line x1="1114.1" y1="424.5" x2="1114.1" y2="433.9" stroke="#000000" stroke-width="2.8" stroke-linecap="butt"/>
<text x="0" y="0" font-size="31" text-anchor="middle" font-weight="normal" font-style="normal" transform="translate(1114.1,464.8) scale(1,1.05)" >Treated</text>
<line x1="1279.1" y1="424.5" x2="1279.1" y2="433.9" stroke="#000000" stroke-width="2.8" stroke-linecap="butt"/>
<text x="0" y="0" font-size="31" text-anchor="middle" font-weight="normal" font-style="normal" transform="translate(1279.1,464.8) scale(1,1.05)" >Untreated</text>
<line x1="1444.9" y1="424.5" x2="1444.9" y2="433.9" stroke="#000000" stroke-width="2.8" stroke-linecap="butt"/>
<text x="0" y="0" font-size="31" text-anchor="middle" font-weight="normal" font-style="normal" transform="translate(1444.9,464.8) scale(1,1.05)" >SC</text>
<text x="0" y="0" font-size="30.2" text-anchor="middle" transform="translate(970.3,219.5) rotate(-90) scale(1,1.05)">Time to lowest blood glucose (h)</text>
<polyline points="1114.8,655.3 1114.8,638.4 1446.9,638.4 1446.9,655.3" fill="none" stroke="#000" stroke-width="2.8"/>
<polyline points="1114.8,774.5 1114.8,687.5 1273.6,687.5 1273.6,705.9" fill="none" stroke="#000" stroke-width="2.8"/>
<polyline points="1284.6,705.9 1284.6,687.5 1446.9,687.5 1446.9,705.9" fill="none" stroke="#000" stroke-width="2.8"/>
<text x="0" y="0" font-size="27.5" transform="translate(1210.0,629.1) scale(1,1.05)"><tspan font-style="italic">P</tspan> = 0.0026</text>
<text x="0" y="0" font-size="27.5" transform="translate(1134.4,676.5) scale(1,1.05)"><tspan font-style="italic">P</tspan> = 0.003</text>
<text x="0" y="0" font-size="27.5" transform="translate(1297.3,676.7) scale(1,1.05)"><tspan font-style="italic">P</tspan> = 0.0572</text>
<line x1="1059.1" y1="846.0" x2="1169.1" y2="846.0" stroke="#000000" stroke-width="3.0" stroke-linecap="butt"/>
<line x1="1114.1" y1="818.5" x2="1114.1" y2="873.6" stroke="#000000" stroke-width="3.0" stroke-linecap="butt"/>
<line x1="1086.8" y1="818.5" x2="1141.4" y2="818.5" stroke="#000000" stroke-width="3.0" stroke-linecap="butt"/>
<line x1="1086.8" y1="873.6" x2="1141.4" y2="873.6" stroke="#000000" stroke-width="3.0" stroke-linecap="butt"/>
<circle cx="1114.0" cy="789.8" r="6.6" fill="#000000"/>
<circle cx="1065.4" cy="857.3" r="6.6" fill="#000000"/>
<circle cx="1089.6" cy="857.3" r="6.6" fill="#000000"/>
<circle cx="1114.1" cy="857.3" r="6.6" fill="#000000"/>
<circle cx="1138.7" cy="857.3" r="6.6" fill="#000000"/>
<circle cx="1163.1" cy="857.3" r="6.6" fill="#000000"/>
<line x1="1225.4" y1="722.3" x2="1335.4" y2="722.3" stroke="#c81818" stroke-width="3.0" stroke-linecap="butt"/>
<rect x="1261.2" y="716.0" width="12.6" height="12.6" fill="#f80000"/>
<rect x="1286.9" y="716.0" width="12.6" height="12.6" fill="#f80000"/>
<line x1="1391.7" y1="778.5" x2="1501.7" y2="778.5" stroke="#0808aa" stroke-width="3.0" stroke-linecap="butt"/>
<line x1="1446.7" y1="751.0" x2="1446.7" y2="806.1" stroke="#0808aa" stroke-width="3.0" stroke-linecap="butt"/>
<line x1="1419.4" y1="751.0" x2="1474.0" y2="751.0" stroke="#0808aa" stroke-width="3.0" stroke-linecap="butt"/>
<line x1="1419.4" y1="806.1" x2="1474.0" y2="806.1" stroke="#0808aa" stroke-width="3.0" stroke-linecap="butt"/>
<polygon points="1446.5,716.0 1452.9,728.6 1440.1,728.6" fill="#0a0ae0"/>
<polygon points="1397.8,783.5 1404.2,796.1 1391.4,796.1" fill="#0a0ae0"/>
<polygon points="1422.2,783.5 1428.6,796.1 1415.8,796.1" fill="#0a0ae0"/>
<polygon points="1446.5,783.5 1452.9,796.1 1440.1,796.1" fill="#0a0ae0"/>
<polygon points="1470.9,783.5 1477.3,796.1 1464.5,796.1" fill="#0a0ae0"/>
<polygon points="1495.6,783.5 1502.0,796.1 1489.2,796.1" fill="#0a0ae0"/>
<rect x="1031.8" y="587.3" width="498.6" height="405.0" fill="none" stroke="#000" stroke-width="2.8"/>
<line x1="1022.4" y1="992.3" x2="1031.8" y2="992.3" stroke="#000000" stroke-width="2.8" stroke-linecap="butt"/>
<text x="0" y="0" font-size="31" text-anchor="end" font-weight="normal" font-style="normal" transform="translate(1018.3,1003.1) scale(1,1.0)" >0</text>
<line x1="1022.4" y1="857.3" x2="1031.8" y2="857.3" stroke="#000000" stroke-width="2.8" stroke-linecap="butt"/>
<text x="0" y="0" font-size="31" text-anchor="end" font-weight="normal" font-style="normal" transform="translate(1018.3,868.1) scale(1,1.0)" >1</text>
<line x1="1022.4" y1="722.3" x2="1031.8" y2="722.3" stroke="#000000" stroke-width="2.8" stroke-linecap="butt"/>
<text x="0" y="0" font-size="31" text-anchor="end" font-weight="normal" font-style="normal" transform="translate(1018.3,733.1) scale(1,1.0)" >2</text>
<line x1="1022.4" y1="587.3" x2="1031.8" y2="587.3" stroke="#000000" stroke-width="2.8" stroke-linecap="butt"/>
<text x="0" y="0" font-size="31" text-anchor="end" font-weight="normal" font-style="normal" transform="translate(1018.3,598.1) scale(1,1.0)" >3</text>
<line x1="1114.5" y1="992.3" x2="1114.5" y2="1001.7" stroke="#000000" stroke-width="2.8" stroke-linecap="butt"/>
<text x="0" y="0" font-size="31" text-anchor="middle" font-weight="normal" font-style="normal" transform="translate(1114.5,1032.5) scale(1,1.05)" >Treated</text>
<line x1="1280.5" y1="992.3" x2="1280.5" y2="1001.7" stroke="#000000" stroke-width="2.8" stroke-linecap="butt"/>
<text x="0" y="0" font-size="31" text-anchor="middle" font-weight="normal" font-style="normal" transform="translate(1280.5,1032.5) scale(1,1.05)" >Untreated</text>
<line x1="1446.7" y1="992.3" x2="1446.7" y2="1001.7" stroke="#000000" stroke-width="2.8" stroke-linecap="butt"/>
<text x="0" y="0" font-size="31" text-anchor="middle" font-weight="normal" font-style="normal" transform="translate(1446.7,1032.5) scale(1,1.05)" >SC</text>
<text x="0" y="0" font-size="30.2" text-anchor="middle" transform="translate(970.3,785.9) rotate(-90) scale(1,1.05)">Time to lowest blood glucose (h)</text>
<text x="0" y="0" font-size="35" text-anchor="start" font-weight="bold" font-style="normal" transform="translate(10.0,230.6) scale(1,1.04)" >Day 60</text>
<text x="0" y="0" font-size="35" text-anchor="start" font-weight="bold" font-style="normal" transform="translate(3.0,802.8) scale(1,1.04)" >Day 180</text>
</svg>
</body></html>
